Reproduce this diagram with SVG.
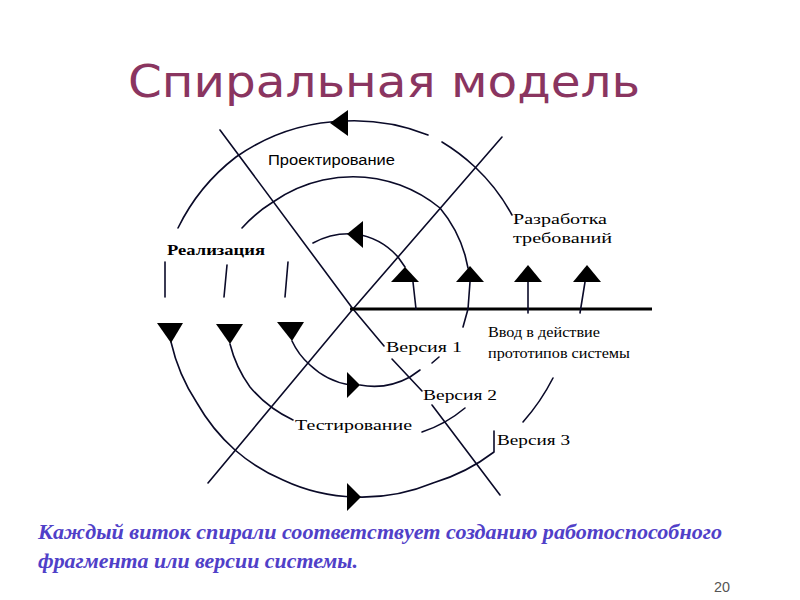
<svg xmlns="http://www.w3.org/2000/svg" width="800" height="600" viewBox="0 0 800 600">
<defs>
<style>
.ln{fill:none;stroke:#0a0a28;stroke-width:1.6;stroke-linecap:round;stroke-linejoin:round}
.ax{fill:none;stroke:#000;stroke-width:3}
.ar{fill:#000;stroke:none}
.lbl{font-family:"Liberation Serif","Times New Roman",serif;font-size:15px;fill:#000}
.lbs{font-family:"Liberation Sans",Arial,sans-serif;font-size:14px;fill:#000}
.title{font-family:"DejaVu Sans","Noto Sans",sans-serif;font-size:44px;fill:#8a3560}
.note{font-family:"Liberation Serif","Times New Roman",serif;font-size:20px;font-style:italic;font-weight:bold;fill:#5040c8}
</style>
</defs>
<rect width="800" height="600" fill="#fff"/>
<text class="title" x="128" y="97" textLength="512" lengthAdjust="spacingAndGlyphs">Спиральная модель</text>

<g id="connectors">
<!-- diagonals -->
<path class="ln" d="M502,137 L353,309 L208,483"/>
<path class="ln" d="M220,130 L353,309 L384,346"/>
<path class="ln" d="M392,359 L422,391"/>
<path class="ln" d="M432,405 L500,495"/>
<!-- horizontal axis -->
<path class="ax" d="M350,309 L652,309"/>
<!-- outer spiral -->
<path class="ln" d="M178,228 A200,200 0 0 1 236,157 A200,200 0 0 1 345,121 A200,200 0 0 1 428,135"/>
<path class="ln" d="M442,142 A195,195 0 0 1 475,167 A190,190 0 0 1 512,215"/>
<path class="ln" d="M165,262 L165,297"/>
<path class="ln" d="M171,342 A185,185 0 0 0 197,403 A185,185 0 0 0 235,450 A180,180 0 0 0 283,480 A180,180 0 0 0 355,497 A185,185 0 0 0 433,483 A190,190 0 0 0 494,452 L494,431"/>
<path class="ln" d="M553,378 A210,210 0 0 1 523,422"/>
<!-- middle spiral -->
<path class="ln" d="M242,228 A140,140 0 0 1 273,202 A140,140 0 0 1 323,180 A140,140 0 0 1 400,185 A140,140 0 0 1 440,208 A130,130 0 0 1 465,255 L468,268"/>
<path class="ln" d="M227,265 L224,297"/>
<path class="ln" d="M230,344 A125,125 0 0 0 250,387 A125,125 0 0 0 293,420"/>
<path class="ln" d="M422,432 A130,130 0 0 0 465,408"/>
<!-- inner spiral -->
<path class="ln" d="M313,243 A75,75 0 0 1 355,234 A70,70 0 0 1 398,257 L405,267"/>
<path class="ln" d="M288,262 L285,297"/>
<path class="ln" d="M292,341 A72,72 0 0 0 310,365 A75,75 0 0 0 350,385"/>
<path class="ln" d="M360,385 A75,75 0 0 0 410,377 L420,370"/>
<path class="ln" d="M432,363 L439,357"/>
<!-- arrow stems -->
<path class="ln" d="M413,282 L416,309"/>
<path class="ln" d="M463,327 L468,309 L470,282"/>
<path class="ln" d="M528,282 L528,313"/>
<path class="ln" d="M585,282 L580,313"/>
</g>

<g id="arrowheads">
<polygon class="ar" points="405,267 391,282 419,282"/>
<polygon class="ar" points="470,266 456,282 484,282"/>
<polygon class="ar" points="528,265 514,282 542,282"/>
<polygon class="ar" points="587,265 573,282 601,282"/>
<polygon class="ar" points="157,323 183,323 171,343"/>
<polygon class="ar" points="216,324 243,324 230,344"/>
<polygon class="ar" points="277,322 304,322 292,341"/>
<polygon class="ar" points="330,123 348,110 348,136"/>
<polygon class="ar" points="347,234 363,221 363,248"/>
<polygon class="ar" points="360,385 347,372 347,398"/>
<polygon class="ar" points="361,497 347,483 347,511"/>
</g>

<g id="node-design"><text class="lbs" x="268" y="165" textLength="127" lengthAdjust="spacingAndGlyphs">Проектирование</text></g>
<g id="node-implementation"><text class="lbl" x="167" y="255" font-weight="bold" textLength="98" lengthAdjust="spacingAndGlyphs">Реализация</text></g>
<g id="node-requirements">
<text class="lbl" x="513" y="224" textLength="94" lengthAdjust="spacingAndGlyphs">Разработка</text>
<text class="lbl" x="513" y="243" textLength="99" lengthAdjust="spacingAndGlyphs">требований</text>
</g>
<g id="node-testing"><text class="lbl" x="295" y="430" textLength="117" lengthAdjust="spacingAndGlyphs">Тестирование</text></g>
<g id="node-deploy">
<text class="lbl" x="488" y="337" textLength="112" lengthAdjust="spacingAndGlyphs">Ввод в действие</text>
<text class="lbl" x="488" y="358" textLength="142" lengthAdjust="spacingAndGlyphs">прототипов системы</text>
</g>
<g id="node-v1"><text class="lbl" x="386" y="352" textLength="76" lengthAdjust="spacingAndGlyphs">Версия 1</text></g>
<g id="node-v2"><text class="lbl" x="423" y="400" textLength="74" lengthAdjust="spacingAndGlyphs">Версия 2</text></g>
<g id="node-v3"><text class="lbl" x="497" y="445" textLength="73" lengthAdjust="spacingAndGlyphs">Версия 3</text></g>

<text class="note" x="38" y="539" textLength="684" lengthAdjust="spacingAndGlyphs">Каждый виток спирали соответствует созданию работоспособного</text>
<text class="note" x="38" y="568" textLength="320" lengthAdjust="spacingAndGlyphs">фрагмента или версии системы.</text>
<text x="714" y="592" font-family="'Liberation Sans Narrow','Liberation Sans',Arial,sans-serif" font-size="14" fill="#555" textLength="16" lengthAdjust="spacingAndGlyphs">20</text>
</svg>
